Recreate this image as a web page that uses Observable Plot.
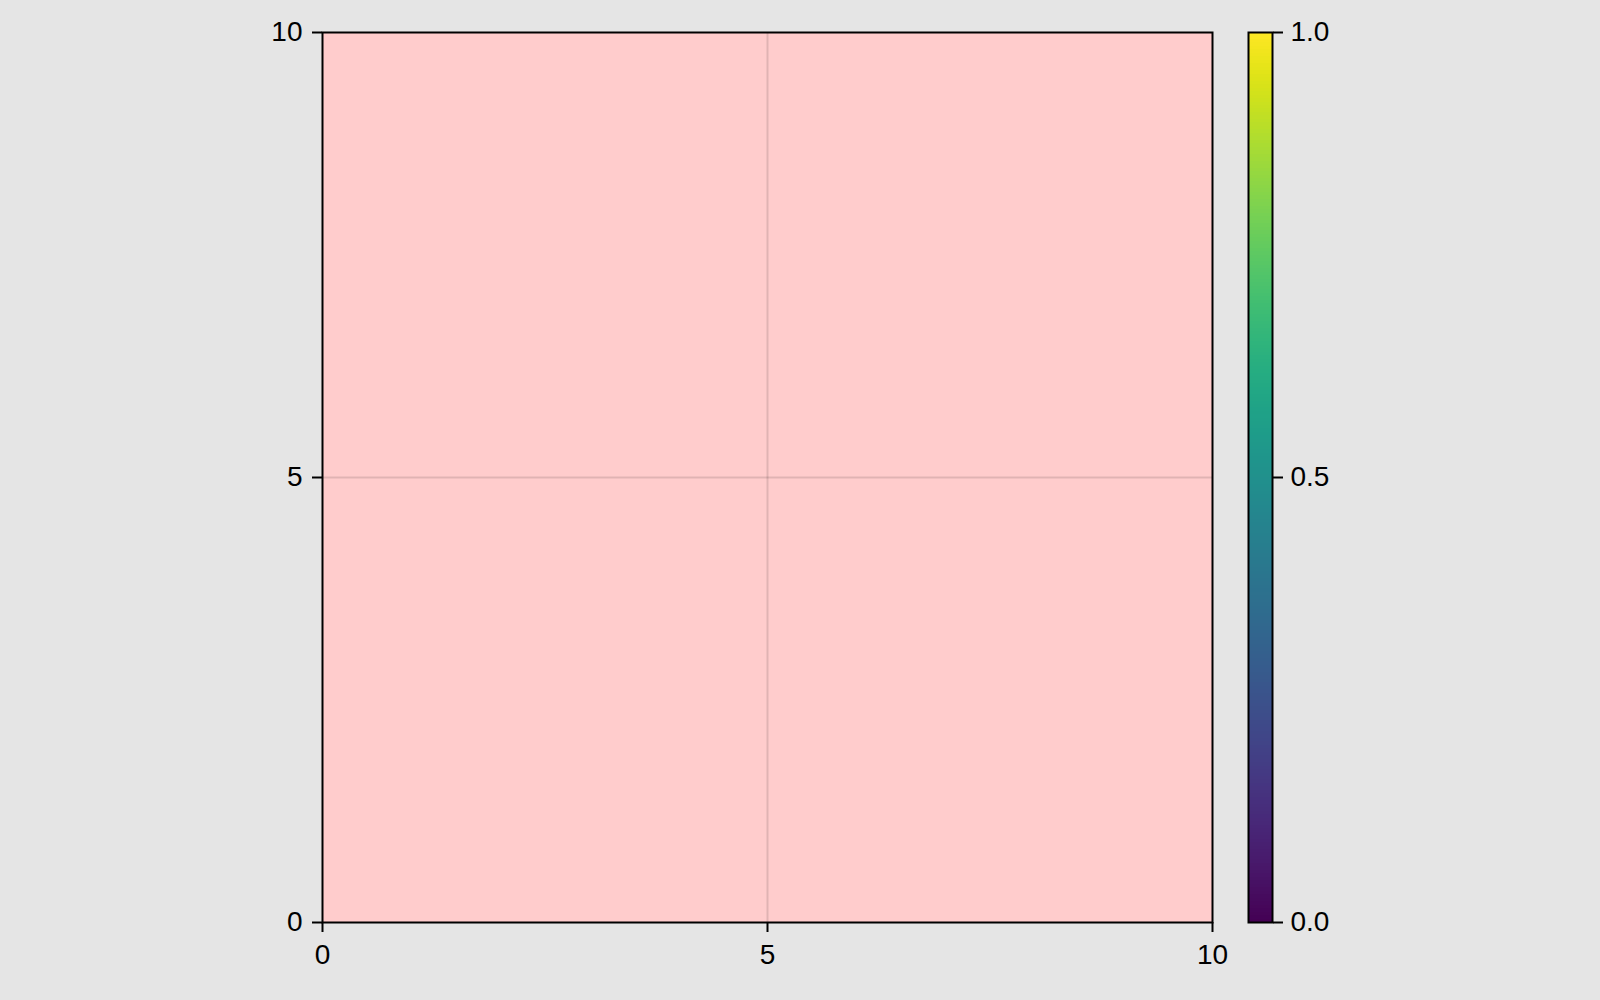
<!DOCTYPE html>
<html>
<head>
<meta charset="utf-8">
<script src="https://cdn.jsdelivr.net/npm/d3@7"></script>
<script src="https://cdn.jsdelivr.net/npm/@observablehq/plot@0.6"></script>
<style>
  html, body { margin: 0; padding: 0; background: #e5e5e5; }
  #wrap { position: relative; width: 1600px; height: 1000px; }
  #wrap svg { position: absolute; left: 0; top: 0; }
</style>
</head>
<body>
<div id="wrap"></div>
<script>
// ---- data ----
const xDomain = [0, 10];
const yDomain = [0, 10];
const xTicks = [0, 5, 10];
const yTicks = [0, 5, 10];
const gridX = [5];
const gridY = [5];
const bandX = [0, 10];     // filled region x extent
const bandY = [0, 10];     // filled region y extent
const colorDomain = [0, 1];
const colorTicks = [0, 0.5, 1.0];

const W = 1600, H = 1000;
const font = "'Liberation Sans', 'Helvetica', Arial, sans-serif";

const main = Plot.plot({
  width: W, height: H,
  marginLeft: 322, marginRight: W - 1212, marginTop: 32, marginBottom: H - 922,
  style: { background: "transparent", fontFamily: font, color: "black" },
  x: { domain: xDomain },
  y: { domain: yDomain },
  marks: [
    Plot.rect([{x1: bandX[0], x2: bandX[1], y1: bandY[0], y2: bandY[1]}],
      { x1: "x1", x2: "x2", y1: "y1", y2: "y2", fill: "#ffcccc" }),
    Plot.ruleX(gridX, { stroke: "black", strokeOpacity: 0.12, strokeWidth: 2 }),
    Plot.ruleY(gridY, { stroke: "black", strokeOpacity: 0.12, strokeWidth: 2 }),
    Plot.frame({ stroke: "black", strokeWidth: 2 }),
    Plot.axisX({ ticks: xTicks, tickSize: 10, tickPadding: 12, fontSize: 28, strokeWidth: 2, label: null, tickFormat: d => String(d) }),
    Plot.axisY({ ticks: yTicks, tickSize: 10, tickPadding: 10, fontSize: 28, strokeWidth: 2, label: null, tickFormat: d => String(d) })
  ]
});

const steps = d3.range(0, 256).map(i => ({ v0: i / 256, v1: (i + 1) / 256, v: (i + 0.5) / 256 }));

const cbar = Plot.plot({
  width: W, height: H,
  marginLeft: 1248, marginRight: W - 1272, marginTop: 32, marginBottom: H - 922,
  style: { background: "transparent", fontFamily: font, color: "black" },
  x: { domain: [0, 1], axis: null },
  y: { domain: colorDomain },
  color: { type: "linear", scheme: "viridis", domain: colorDomain },
  marks: [
    Plot.rect(steps, { x1: 0, x2: 1, y1: "v0", y2: "v1", fill: "v", shapeRendering: "crispEdges", inset: 0 }),
    Plot.frame({ stroke: "black", strokeWidth: 2 }),
    Plot.axisY({ anchor: "right", ticks: colorTicks, tickSize: 10, tickPadding: 8, fontSize: 28, strokeWidth: 2, label: null, tickFormat: d3.format(".1f") })
  ]
});

const wrap = document.getElementById("wrap");
wrap.appendChild(main);
wrap.appendChild(cbar);
</script>
</body>
</html>
